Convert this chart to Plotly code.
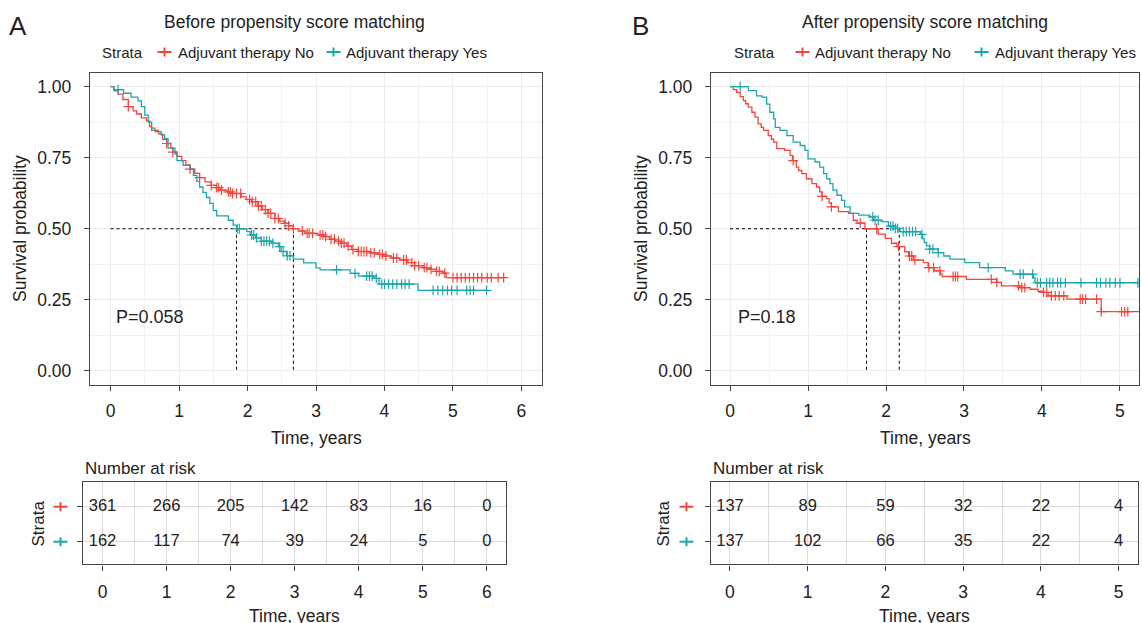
import numpy as np
import plotly.graph_objects as go

W, H = 1142, 623
FONT = "Liberation Sans, Arial, Helvetica, sans-serif"
RED = "#F2463D"
TEAL = "#1FA6AC"
TXT = "#222222"

# ---------------- Panel A: before propensity score matching ----------------
a_no_time = [0, 0.05, 0.11, 0.18, 0.26, 0.33, 0.38, 0.45, 0.525, 0.57, 0.6, 0.7, 0.76, 0.82, 0.88,
             0.91, 0.97, 1.04, 1.1, 1.16, 1.23, 1.3, 1.38, 1.47, 1.55, 1.6, 1.72, 1.77, 1.91, 1.98,
             2.06, 2.15, 2.22, 2.3, 2.4, 2.47, 2.54, 2.6, 2.67, 2.75, 2.84, 3.03, 3.12, 3.2, 3.28,
             3.36, 3.45, 3.52, 3.6, 3.79, 3.9, 3.98, 4.1, 4.22, 4.34, 4.44, 4.56, 4.66, 4.76, 4.85, 4.9]
a_no_surv = [1.0, 0.985, 0.974, 0.955, 0.93, 0.915, 0.904, 0.89, 0.88, 0.86, 0.846, 0.834, 0.815, 0.8,
             0.785, 0.77, 0.755, 0.74, 0.725, 0.71, 0.695, 0.68, 0.665, 0.653, 0.645, 0.636, 0.63,
             0.624, 0.612, 0.603, 0.595, 0.58, 0.567, 0.554, 0.536, 0.527, 0.519, 0.51, 0.5, 0.492,
             0.484, 0.478, 0.472, 0.463, 0.456, 0.449, 0.439, 0.427, 0.42, 0.415, 0.41, 0.404, 0.397,
             0.39, 0.381, 0.37, 0.363, 0.357, 0.35, 0.344, 0.328]
a_no_end = 5.74
a_no_censor = [0.26, 0.82, 0.91, 1.16, 1.3, 1.47, 1.55, 1.58, 1.62, 1.72, 1.75, 1.78, 1.84, 1.9, 2.03,
               2.07, 2.12, 2.16, 2.2, 2.26, 2.3, 2.34, 2.4, 2.45, 2.55, 2.6, 2.67, 2.8, 2.87, 2.9,
               2.95, 3.06, 3.1, 3.14, 3.22, 3.27, 3.33, 3.37, 3.41, 3.47, 3.54, 3.62, 3.66, 3.7,
               3.74, 3.8, 3.85, 3.93, 3.97, 4.02, 4.13, 4.18, 4.28, 4.32, 4.4, 4.44, 4.5, 4.58, 4.62,
               4.68, 4.76, 4.8, 4.88, 5.0, 5.06, 5.12, 5.18, 5.24, 5.3, 5.36, 5.42, 5.5, 5.56, 5.66, 5.74]

a_yes_time = [0, 0.05, 0.19, 0.3, 0.4, 0.45, 0.5, 0.55, 0.6, 0.65, 0.74, 0.79, 0.84, 0.94, 0.97,
              1.06, 1.16, 1.21, 1.26, 1.3, 1.35, 1.4, 1.45, 1.5, 1.55, 1.72, 1.79, 1.84, 1.99, 2.04,
              2.12, 2.2, 2.35, 2.45, 2.49, 2.57, 2.67, 2.82, 3.0, 3.06, 3.5, 3.62, 3.85, 3.92, 4.49]
a_yes_surv = [1.0, 0.99, 0.977, 0.963, 0.95, 0.93, 0.9, 0.875, 0.854, 0.842, 0.83, 0.817, 0.784,
              0.764, 0.74, 0.723, 0.71, 0.688, 0.667, 0.647, 0.628, 0.61, 0.589, 0.565, 0.545, 0.53,
              0.513, 0.5, 0.49, 0.478, 0.468, 0.456, 0.449, 0.437, 0.42, 0.405, 0.393, 0.38, 0.362,
              0.355, 0.343, 0.333, 0.325, 0.305, 0.283]
a_yes_end = 5.49
a_yes_censor = [0.11, 1.85, 1.88, 2.06, 2.09, 2.13, 2.2, 2.24, 2.28, 2.32, 2.37, 2.47, 2.52, 2.58,
                2.62, 3.3, 3.57, 3.74, 3.78, 3.82, 3.88, 3.96, 4.0, 4.06, 4.12, 4.18, 4.25, 4.3, 4.36,
                4.71, 4.78, 4.85, 4.92, 4.98, 5.06, 5.2, 5.25, 5.3, 5.49]

a_median_no, a_median_yes = 2.67, 1.84
a_pvalue = "P=0.058"
a_risk_time = [0, 1, 2, 3, 4, 5, 6]
a_risk_no = [361, 266, 205, 142, 83, 16, 0]
a_risk_yes = [162, 117, 74, 39, 24, 5, 0]

# ---------------- Panel B: after propensity score matching ----------------
b_no_time = [0, 0.04, 0.085, 0.13, 0.17, 0.2, 0.235, 0.28, 0.32, 0.36, 0.4, 0.43, 0.49, 0.53, 0.56,
             0.6, 0.7, 0.77, 0.8, 0.85, 0.88, 0.92, 0.98, 1.05, 1.11, 1.15, 1.18, 1.24, 1.27, 1.3,
             1.39, 1.52, 1.58, 1.63, 1.73, 1.9, 1.99, 2.07, 2.14, 2.24, 2.29, 2.35, 2.48, 2.54, 2.62,
             2.7, 2.72, 3.03, 3.42, 3.48, 3.72, 3.85, 3.95, 4.02, 4.08, 4.32, 4.76]
b_no_surv = [1.0, 0.99, 0.98, 0.965, 0.951, 0.94, 0.928, 0.91, 0.893, 0.869, 0.857, 0.846, 0.828,
             0.815, 0.805, 0.782, 0.776, 0.758, 0.74, 0.717, 0.705, 0.694, 0.676, 0.659, 0.647, 0.63,
             0.614, 0.606, 0.59, 0.577, 0.56, 0.554, 0.53, 0.52, 0.5, 0.481, 0.466, 0.449, 0.437,
             0.419, 0.404, 0.39, 0.381, 0.363, 0.352, 0.34, 0.332, 0.322, 0.311, 0.299, 0.293, 0.287,
             0.28, 0.276, 0.264, 0.252, 0.208]
b_no_end = 5.3
b_no_censor = [0.81, 1.18, 1.3, 1.67, 1.88, 2.16, 2.3, 2.33, 2.37, 2.55, 2.61, 2.69, 2.86, 2.89, 2.92,
               3.35, 3.42, 3.7, 3.74, 3.78, 4.02, 4.06, 4.12, 4.17, 4.22, 4.28, 4.49, 4.52, 4.56,
               4.7, 4.76, 5.02, 5.06, 5.1]

b_yes_time = [0, 0.235, 0.34, 0.41, 0.47, 0.51, 0.56, 0.58, 0.64, 0.73, 0.81, 0.9, 0.96, 1.0, 1.09,
              1.15, 1.2, 1.24, 1.28, 1.32, 1.37, 1.43, 1.47, 1.54, 1.65, 1.79, 1.84, 1.94, 2.03, 2.12,
              2.18, 2.44, 2.47, 2.49, 2.52, 2.56, 2.67, 2.74, 2.82, 3.01, 3.2, 3.53, 3.63, 3.89, 3.91]
b_yes_surv = [1.0, 0.986, 0.968, 0.963, 0.939, 0.91, 0.887, 0.857, 0.846, 0.828, 0.805, 0.793, 0.776,
              0.746, 0.735, 0.717, 0.694, 0.676, 0.659, 0.636, 0.618, 0.6, 0.577, 0.554, 0.548, 0.542,
              0.53, 0.525, 0.509, 0.501, 0.49, 0.48, 0.465, 0.451, 0.44, 0.428, 0.416, 0.404, 0.393,
              0.381, 0.363, 0.352, 0.34, 0.328, 0.31]
b_yes_end = 5.3
b_yes_censor = [0.13, 1.83, 1.86, 1.9, 2.06, 2.09, 2.12, 2.15, 2.22, 2.26, 2.3, 2.34, 2.38, 2.46,
                2.56, 2.6, 2.67, 3.31, 3.72, 3.76, 3.88, 3.94, 3.98, 4.06, 4.1, 4.14, 4.2, 4.24, 4.3,
                4.5, 4.7, 4.75, 4.82, 4.87, 4.94, 5.0, 5.23]

b_median_no, b_median_yes = 1.75, 2.17
b_pvalue = "P=0.18"
b_risk_time = [0, 1, 2, 3, 4, 5]
b_risk_no = [137, 89, 59, 32, 22, 4]
b_risk_yes = [137, 102, 66, 35, 22, 4]

strata_labels = ["Adjuvant therapy No", "Adjuvant therapy Yes"]


def step_xy(times, survs, end):
    return list(times) + [end], list(survs) + [survs[-1]]


def surv_at(times, survs, pts):
    t = np.asarray(times)
    s = np.asarray(survs)
    idx = np.searchsorted(t, np.asarray(pts), side="right") - 1
    return s[idx]


fig = go.Figure()


def add_km(times, survs, end, cens, color, xa, ya):
    x, y = step_xy(times, survs, end)
    fig.add_trace(go.Scatter(x=x, y=y, mode="lines", line=dict(color=color, width=1.3, shape="hv"),
                             xaxis=xa, yaxis=ya, showlegend=False, hoverinfo="skip"))
    fig.add_trace(go.Scatter(x=cens, y=surv_at(times, survs, cens), mode="markers",
                             marker=dict(symbol="cross-thin", size=7, line=dict(color=color, width=1.2)),
                             xaxis=xa, yaxis=ya, showlegend=False, hoverinfo="skip"))


def add_median(m1, m2, xa, ya):
    mmax = max(m1, m2)
    fig.add_trace(go.Scatter(x=[0, mmax], y=[0.5, 0.5], mode="lines",
                             line=dict(color="black", width=1, dash="dot"),
                             xaxis=xa, yaxis=ya, showlegend=False, hoverinfo="skip"))
    for m in (m1, m2):
        fig.add_trace(go.Scatter(x=[m, m], y=[0.5, 0], mode="lines",
                                 line=dict(color="black", width=1, dash="dot"),
                                 xaxis=xa, yaxis=ya, showlegend=False, hoverinfo="skip"))


def add_risk(times, no, yes, xa, ya):
    fig.add_trace(go.Scatter(x=times, y=[2] * len(times), text=[str(v) for v in no], mode="text",
                             textfont=dict(size=16.5, color=TXT, family=FONT),
                             xaxis=xa, yaxis=ya, showlegend=False, hoverinfo="skip"))
    fig.add_trace(go.Scatter(x=times, y=[1] * len(times), text=[str(v) for v in yes], mode="text",
                             textfont=dict(size=16.5, color=TXT, family=FONT),
                             xaxis=xa, yaxis=ya, showlegend=False, hoverinfo="skip"))


add_median(a_median_no, a_median_yes, "x", "y")
add_km(a_no_time, a_no_surv, a_no_end, a_no_censor, RED, "x", "y")
add_km(a_yes_time, a_yes_surv, a_yes_end, a_yes_censor, TEAL, "x", "y")
add_median(b_median_no, b_median_yes, "x2", "y2")
add_km(b_no_time, b_no_surv, b_no_end, b_no_censor, RED, "x2", "y2")
add_km(b_yes_time, b_yes_surv, b_yes_end, b_yes_censor, TEAL, "x2", "y2")
add_risk(a_risk_time, a_risk_no, a_risk_yes, "x3", "y3")
add_risk(b_risk_time, b_risk_no, b_risk_yes, "x4", "y4")


def px(x):
    return x / W


def py(y):
    return 1 - y / H


LINE = "#444444"
tickfont = dict(size=17.5, color=TXT, family=FONT)

main_x = dict(showline=True, linecolor=LINE, linewidth=1.4, mirror=True, ticks="outside",
              ticklen=5, tickcolor=LINE, tickwidth=1.2, tickfont=tickfont, dtick=1, tick0=0,
              showgrid=True, gridcolor="#EBEBEB", gridwidth=1, zeroline=False,
              minor=dict(dtick=0.5, tick0=0, showgrid=True, gridcolor="#F2F2F2", gridwidth=1),
              ticklabelstandoff=5)
main_y = dict(showline=True, linecolor=LINE, linewidth=1.4, mirror=True, ticks="outside",
              ticklen=5, tickcolor=LINE, tickwidth=1.2, tickfont=tickfont,
              tickvals=[0, 0.25, 0.5, 0.75, 1.0], ticktext=["0.00", "0.25", "0.50", "0.75", "1.00"],
              showgrid=True, gridcolor="#EBEBEB", gridwidth=1, zeroline=False, range=[-0.05, 1.05],
              minor=dict(dtick=0.125, tick0=0, showgrid=True, gridcolor="#F2F2F2", gridwidth=1),
              ticklabelstandoff=9)
risk_x = dict(showline=True, linecolor=LINE, linewidth=1.4, mirror=True, ticks="outside",
              ticklen=5, tickcolor=LINE, tickwidth=1.2, tickfont=tickfont, dtick=1, tick0=0,
              showgrid=True, gridcolor="#DADADA", gridwidth=1, zeroline=False,
              minor=dict(dtick=0.5, tick0=0, showgrid=True, gridcolor="#DADADA", gridwidth=1),
              ticklabelstandoff=6)
risk_y = dict(showline=True, linecolor=LINE, linewidth=1.4, mirror=True, ticks="outside",
              ticklen=5, tickcolor=LINE, tickwidth=1.2, tickvals=[1, 2], ticktext=["", ""],
              showgrid=True, gridcolor="#DADADA", gridwidth=1, zeroline=False, range=[0.35, 2.7])

main_top, main_bot = 72.5, 385
risk_top, risk_bot = 482.3, 564.3

fig.update_layout(
    width=W, height=H, margin=dict(l=0, r=0, t=0, b=0),
    paper_bgcolor="white", plot_bgcolor="white",
    font=dict(family=FONT, color=TXT),
    xaxis=dict(main_x, domain=[px(90), px(542)], range=[-0.3, 6.3], anchor="y"),
    yaxis=dict(main_y, domain=[py(main_bot), py(main_top)], anchor="x"),
    xaxis2=dict(main_x, domain=[px(711), px(1139)], range=[-0.244, 5.244], anchor="y2"),
    yaxis2=dict(main_y, domain=[py(main_bot), py(main_top)], anchor="x2"),
    xaxis3=dict(risk_x, domain=[px(83.3), px(506)], range=[-0.3, 6.3], anchor="y3"),
    yaxis3=dict(risk_y, domain=[py(risk_bot), py(risk_top)], anchor="x3"),
    xaxis4=dict(risk_x, domain=[px(710.7), px(1138)], range=[-0.248, 5.248], anchor="y4"),
    yaxis4=dict(risk_y, domain=[py(risk_bot), py(risk_top)], anchor="x4"),
)

ann = []


def text(x, y, s, size, xanchor="center", yanchor="middle", angle=0, ref=("paper", "paper")):
    ann.append(dict(x=x, y=y, xref=ref[0], yref=ref[1], text=s, showarrow=False,
                    font=dict(size=size, color=TXT, family=FONT), xanchor=xanchor,
                    yanchor=yanchor, textangle=angle))


# panel letters and titles
text(px(18), py(26), "A", 26)
text(px(640), py(26), "B", 26)
text(px(294.7), py(22), "Before propensity score matching", 17.5)
text(px(924.5), py(22), "After propensity score matching", 17.5)

# legends
shapes = []


def key(xc, yc, color, half_w=7, half_h=4.5):
    shapes.append(dict(type="line", xref="paper", yref="paper", x0=px(xc - half_w), x1=px(xc + half_w),
                       y0=py(yc), y1=py(yc), line=dict(color=color, width=2)))
    shapes.append(dict(type="line", xref="paper", yref="paper", x0=px(xc), x1=px(xc),
                       y0=py(yc - half_h), y1=py(yc + half_h), line=dict(color=color, width=2)))


for (sx, k1, t1, k2, t2) in [(100, 164.5, 176, 333.5, 344), (731.7, 802.5, 813.5, 981.5, 992.5)]:
    text(px(sx), py(52), "Strata", 15, xanchor="left")
    key(k1, 52, RED)
    text(px(t1), py(52), strata_labels[0], 15, xanchor="left")
    key(k2, 52, TEAL)
    text(px(t2), py(52), strata_labels[1], 15, xanchor="left")

# axis titles main
text(px(20), py(229), "Survival probability", 17.5, angle=-90)
text(px(641), py(229), "Survival probability", 17.5, angle=-90)
text(px(316), py(438), "Time, years", 17.5)
text(px(925), py(438), "Time, years", 17.5)

# p-values
text(0.05, 0.19, a_pvalue, 18, xanchor="left", ref=("x", "y"))
text(0.077, 0.19, b_pvalue, 18, xanchor="left", ref=("x2", "y2"))

# risk tables
text(px(83.3), py(468), "Number at risk", 17, xanchor="left")
text(px(710.7), py(468), "Number at risk", 17, xanchor="left")
text(px(37.5), py(524), "Strata", 17, angle=-90)
text(px(662.5), py(524), "Strata", 17, angle=-90)
text(px(294.7), py(604), "Time, years", 17.5, yanchor="top")
text(px(924.4), py(604), "Time, years", 17.5, yanchor="top")
key(60.5, 506.7, RED)
key(60.5, 541.7, TEAL)
key(686.5, 506.7, RED)
key(686.5, 541.7, TEAL)

fig.update_layout(annotations=ann, shapes=shapes)
fig.write_html("out.html", config={"displayModeBar": False},
               post_script="document.body.style.margin='0';document.body.style.overflow='hidden';")
